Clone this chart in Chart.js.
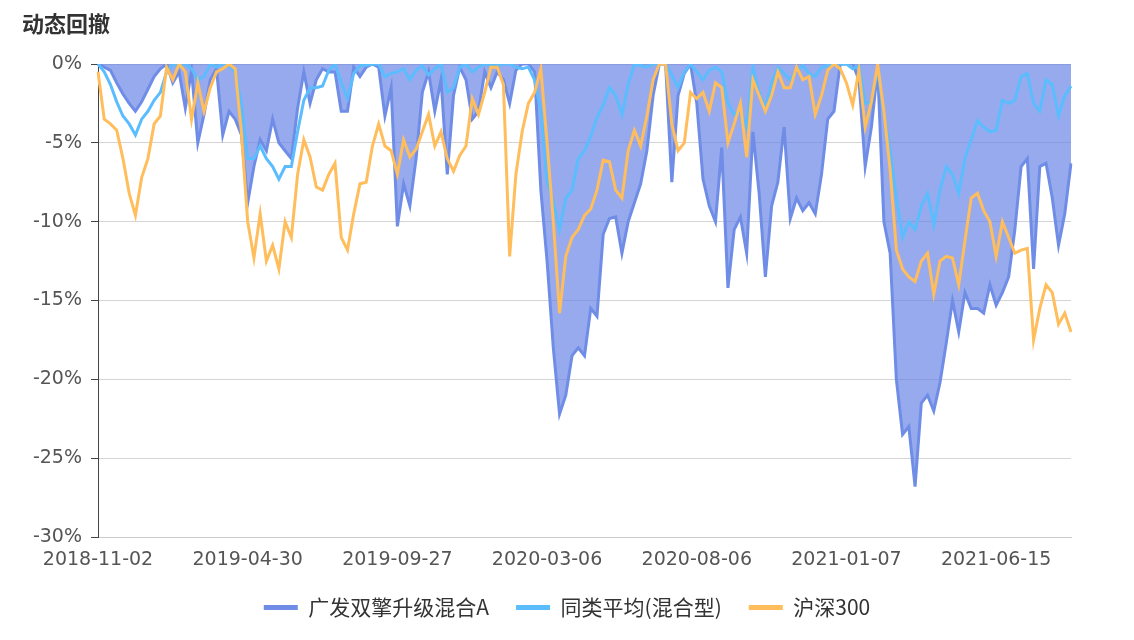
<!DOCTYPE html>
<html>
<head>
<meta charset="utf-8">
<title>动态回撤</title>
<script src="https://cdn.jsdelivr.net/npm/chart.js"></script>
<style>
  body { margin: 0; background: #fff; }
  #wrap { position: relative; width: 1134px; height: 640px; }
  #title {
    position: absolute; left: 22px; top: 11px;
    font: bold 22px/22px "Noto Sans CJK SC", sans-serif; color: #333;
  }
</style>
</head>
<body>
<div id="wrap">
  <div id="title">动态回撤</div>
  <canvas id="myChart"></canvas>
</div>

<script>
  // 日期（类目轴）
  const dates = [
    '2018-11-02','2018-11-09','2018-11-16','2018-11-23','2018-11-30','2018-12-07','2018-12-14','2018-12-21','2018-12-28','2019-01-04','2019-01-11','2019-01-18','2019-01-25','2019-02-01','2019-02-15','2019-02-22','2019-03-01','2019-03-08','2019-03-15','2019-03-22','2019-03-29','2019-04-04','2019-04-12','2019-04-19',
    '2019-04-30','2019-05-08','2019-05-14','2019-05-20','2019-05-27','2019-06-03','2019-06-10','2019-06-17','2019-06-21','2019-06-27','2019-07-03','2019-07-09','2019-07-15','2019-07-19','2019-07-25','2019-07-31','2019-08-06','2019-08-12','2019-08-16','2019-08-22','2019-08-28','2019-09-03','2019-09-09','2019-09-17',
    '2019-09-27','2019-10-11','2019-10-17','2019-10-23','2019-10-29','2019-11-04','2019-11-08','2019-11-14','2019-11-20','2019-11-26','2019-12-02','2019-12-09','2019-12-16','2019-12-23','2019-12-30','2020-01-06','2020-01-10','2020-01-17','2020-02-03','2020-02-07','2020-02-13','2020-02-19','2020-02-25','2020-03-02',
    '2020-03-06','2020-03-12','2020-03-19','2020-03-25','2020-03-31','2020-04-08','2020-04-14','2020-04-20','2020-04-24','2020-04-30','2020-05-08','2020-05-14','2020-05-20','2020-05-26','2020-06-01','2020-06-05','2020-06-11','2020-06-17','2020-06-23','2020-07-01','2020-07-07','2020-07-13','2020-07-21','2020-07-29',
    '2020-08-06','2020-08-12','2020-08-18','2020-08-24','2020-08-28','2020-09-03','2020-09-09','2020-09-15','2020-09-21','2020-09-25','2020-10-09','2020-10-15','2020-10-21','2020-10-27','2020-11-02','2020-11-06','2020-11-12','2020-11-18','2020-11-24','2020-11-30','2020-12-07','2020-12-14','2020-12-22','2020-12-30',
    '2021-01-07','2021-01-13','2021-01-19','2021-01-25','2021-01-29','2021-02-04','2021-02-10','2021-02-22','2021-02-26','2021-03-04','2021-03-10','2021-03-16','2021-03-22','2021-03-26','2021-04-01','2021-04-08','2021-04-14','2021-04-20','2021-04-26','2021-05-06','2021-05-12','2021-05-18','2021-05-24','2021-06-07',
    '2021-06-15','2021-06-21','2021-06-25','2021-07-01','2021-07-07','2021-07-13','2021-07-19','2021-07-23','2021-07-29','2021-08-04','2021-08-10','2021-08-16','2021-08-20'
  ];

  // 横轴显示的日期
  const tickLabels = ['2018-11-02', '2019-04-30', '2019-09-27', '2020-03-06', '2020-08-06', '2021-01-07', '2021-06-15'];

  // 广发双擎升级混合A 回撤 (%)
  const fundDD = [
    0,-0.2,-0.4,-1.2,-1.9,-2.5,-3.0,-2.4,-1.6,-0.8,-0.3,0,-1.2,-0.5,-2.8,-0.4,-5.0,-3.2,-1.0,-0.3,-4.5,-3.0,-3.5,-4.5,
    -8.8,-6.5,-4.8,-5.5,-3.5,-5.0,-5.5,-6.0,-2.8,-0.5,-2.5,-1.0,-0.3,-0.5,-0.5,-3.0,-3.0,-0.2,-0.8,-0.2,0,-0.2,-3.3,-1.5,
    -10.3,-7.6,-9.0,-6.0,-1.8,-0.5,-3.0,-1.0,-7.0,-2.0,-0.2,-1.0,-3.5,-3.0,-0.5,-1.5,-0.5,-1.0,-2.5,-0.4,0,0,-0.5,-8.0,
    -12.5,-18.0,-22.2,-21.0,-18.5,-18.0,-18.5,-15.5,-16.0,-10.8,-9.8,-9.7,-12.0,-10.0,-8.8,-7.6,-5.5,-2.0,0,0,-7.5,-2.0,-0.6,0,
    -2.5,-7.3,-9.0,-10.0,-5.3,-14.2,-10.5,-9.7,-12.0,-4.3,-8.2,-13.5,-9.0,-7.5,-4.0,-9.8,-8.5,-9.3,-8.8,-9.5,-7.0,-3.5,-3.0,0,
    0,0,-1.0,-6.5,-4.0,-0.3,-10.0,-12.0,-20.0,-23.5,-23.0,-26.8,-21.5,-21.0,-22.0,-20.2,-17.7,-15.0,-17.0,-14.5,-15.5,-15.5,-15.8,-14.0,
    -15.3,-14.5,-13.5,-10.5,-6.5,-6.0,-13.0,-6.5,-6.3,-8.5,-11.5,-9.5,-6.3
  ];

  // 同类平均(混合型) 回撤 (%)
  const categoryDD = [
    0,-0.5,-1.3,-2.4,-3.3,-3.8,-4.5,-3.5,-3.0,-2.3,-1.8,-0.5,0,-0.2,0,-0.3,-1.0,-0.8,0,-0.2,0,-0.1,-0.5,-2.5,
    -6.0,-6.0,-5.2,-6.0,-6.5,-7.3,-6.5,-6.5,-4.3,-2.3,-1.5,-1.5,-1.4,-0.4,0,-1.2,-2.2,-0.6,-0.1,-0.1,0,0,-0.8,-0.6,
    -0.5,-0.3,-1.0,-0.4,-0.1,-0.7,-0.3,0,-1.8,-1.5,-0.2,0,-0.5,-0.2,0,-0.1,-0.1,0,0,-0.2,-0.3,-0.2,-1.0,-3.0,
    -7.5,-8.8,-10.5,-8.5,-8.0,-6.0,-5.5,-4.6,-3.4,-2.6,-1.5,-2.0,-3.2,-1.3,0,-0.1,-0.2,0,0,0,-0.7,-1.5,-0.5,0,
    -0.5,-1.0,-0.4,-0.2,-0.5,-2.5,-3.2,-3.0,-4.0,-0.2,-1.8,-2.8,-1.2,-0.2,-0.6,-1.0,-0.4,-0.1,-0.6,-0.8,-0.2,-0.1,0,0,
    0,-0.3,-0.1,-2.5,-2.4,-0.3,-3.2,-5.5,-8.5,-11.0,-10.0,-10.5,-9.0,-8.2,-10.2,-8.0,-6.5,-7.0,-8.2,-6.0,-4.8,-3.6,-4.0,-4.3,
    -4.2,-2.3,-2.5,-2.3,-0.8,-0.6,-2.5,-3.0,-1.0,-1.3,-3.3,-2.0,-1.4
  ];

  // 沪深300 回撤 (%)
  const csi300DD = [
    -0.5,-3.5,-3.8,-4.2,-6.0,-8.2,-9.6,-7.2,-6.0,-3.8,-3.3,-0.2,-1.0,0,-0.5,-3.5,-1.2,-3.0,-1.5,-0.5,-0.3,0,-0.3,-4.4,
    -10.0,-12.3,-9.5,-12.5,-11.5,-13.0,-10.0,-11.0,-7.0,-4.8,-5.9,-7.8,-8.0,-7.0,-6.3,-11.0,-11.8,-9.5,-7.6,-7.5,-5.2,-3.8,-5.2,-5.5,
    -7.0,-4.8,-5.9,-5.4,-4.3,-3.2,-5.2,-4.3,-6.0,-6.8,-5.8,-5.2,-2.2,-3.2,-1.8,-0.2,-0.2,-1.3,-12.2,-7.0,-4.3,-2.5,-1.8,-0.3,
    -5.0,-10.0,-15.8,-12.2,-11.0,-10.5,-9.6,-9.2,-8.0,-6.1,-6.2,-8.0,-8.5,-5.5,-4.2,-5.2,-3.3,-1.0,0,0,-3.8,-5.5,-5.0,-1.8,
    -2.2,-1.8,-3.0,-1.2,-1.5,-5.0,-3.8,-2.5,-5.9,-1.0,-2.0,-3.0,-2.0,-0.5,-1.5,-1.5,-0.2,-1.0,-0.8,-3.2,-2.0,-0.4,0,-0.3,
    -1.2,-2.6,-0.4,-4.0,-2.4,0,-3.0,-6.7,-11.8,-13.0,-13.5,-13.8,-12.5,-12.0,-14.6,-12.5,-12.2,-12.3,-14.0,-11.2,-8.5,-8.2,-9.3,-10.0,
    -12.2,-10.0,-11.0,-12.0,-11.8,-11.7,-17.5,-15.5,-14.0,-14.5,-16.5,-15.8,-17.0
  ];

  const tickFont = { family: 'DejaVu Sans', size: 19, lineHeight: 1 };

  const ctx = document.getElementById('myChart').getContext('2d');
  const myChart = new Chart(ctx, {
    type: 'line',
    data: {
      labels: dates,
      datasets: [{
        label: '广发双擎升级混合A',
        data: fundDD,
        borderColor: '#6f8de6',
        backgroundColor: 'rgba(100, 130, 228, 0.68)',
        fill: 'origin',
        borderWidth: 3,
        order: 3
      }, {
        label: '同类平均(混合型)',
        data: categoryDD,
        borderColor: '#5bbdfe',
        backgroundColor: '#5bbdfe',
        fill: false,
        borderWidth: 3,
        order: 2
      }, {
        label: '沪深300',
        data: csi300DD,
        borderColor: '#ffbd5c',
        backgroundColor: '#ffbd5c',
        fill: false,
        borderWidth: 3,
        order: 1
      }]
    },
    options: {
      responsive: true,
      maintainAspectRatio: false,
      animation: false,
      elements: { point: { radius: 0 }, line: { tension: 0 } },
      layout: { padding: { top: 64, bottom: 12, left: 0, right: 0 } },
      plugins: {
        tooltip: { enabled: false },
        legend: {
          position: 'bottom',
          labels: {
            color: '#333',
            font: { family: 'Noto Sans CJK SC', size: 21 },
            boxWidth: 34,
            boxHeight: 5,
            padding: 27,
            sort: (a, b) => a.datasetIndex - b.datasetIndex,
            generateLabels(chart) {
              const items = Chart.defaults.plugins.legend.labels.generateLabels(chart);
              items.forEach(it => { it.fillStyle = it.strokeStyle; it.lineWidth = 0; });
              return items;
            }
          }
        }
      },
      scales: {
        x: {
          grid: { display: false, drawTicks: false },
          border: { color: '#cccccc' },
          ticks: {
            autoSkip: false,
            maxRotation: 0,
            padding: 14,
            color: '#555',
            font: tickFont,
            callback: function(value) {
              const lab = this.getLabelForValue(value);
              return tickLabels.includes(lab) ? lab : null;
            }
          },
          afterFit(scale) { scale.height = 33; }
        },
        y: {
          min: -30,
          max: 0,
          grid: { color: '#d4d4d4', tickColor: '#444', tickLength: 7 },
          border: { color: '#444' },
          ticks: {
            stepSize: 5,
            padding: 9,
            color: '#555',
            font: tickFont,
            callback: v => v + '%'
          },
          afterFit(scale) { scale.width = 98; }
        },
        yRight: {
          position: 'right',
          display: true,
          ticks: { display: false },
          grid: { display: false, drawTicks: false },
          border: { display: false },
          afterFit(scale) { scale.width = 63; }
        }
      }
    }
  });
</script>

</body>
</html>
